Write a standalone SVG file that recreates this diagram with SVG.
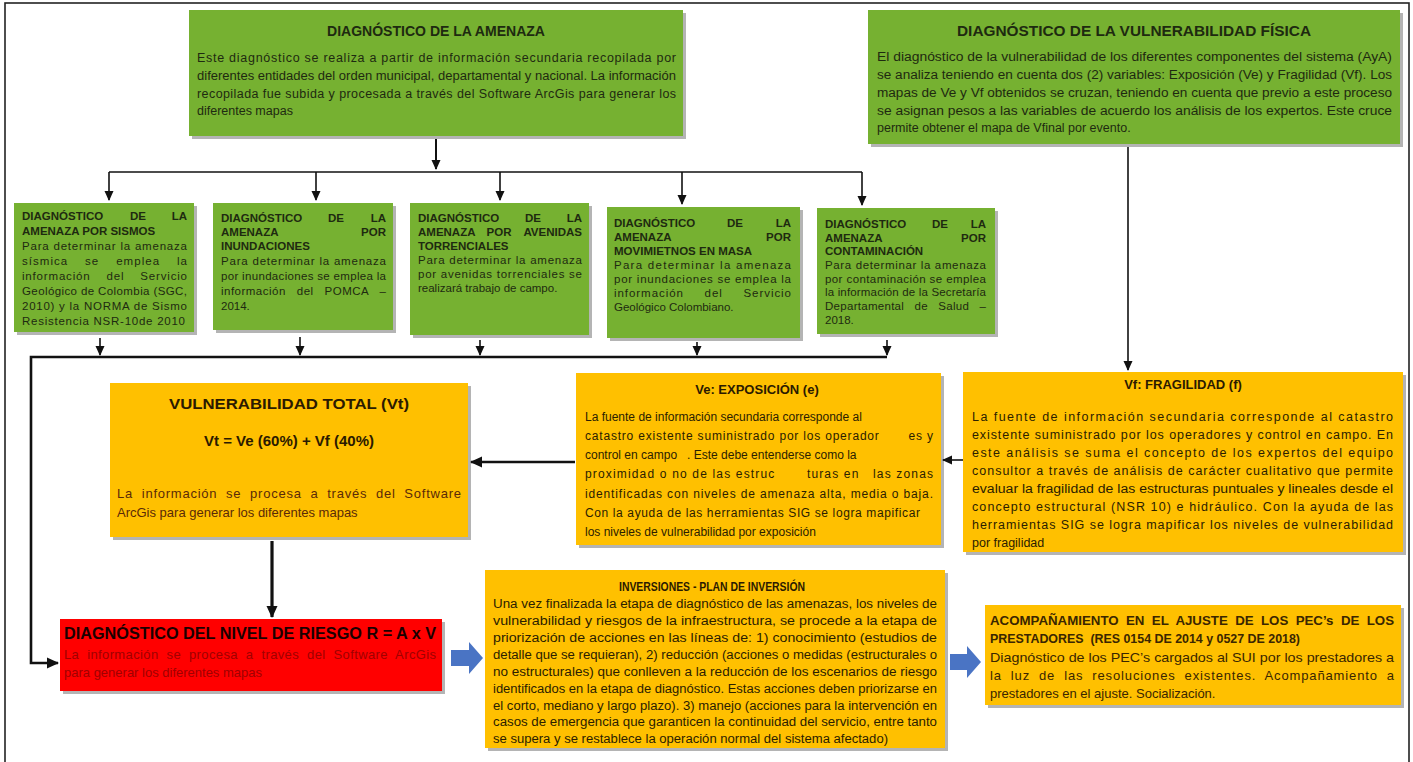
<svg xmlns="http://www.w3.org/2000/svg" width="1413" height="762" viewBox="0 0 1413 762">
<style>
text{font-family:"Liberation Sans",Arial,sans-serif;}
.green{fill:#76B131;}
.orange{fill:#FFC000;}
.red{fill:#FF0000;}
.shadow{fill:#b4b4b4;}
.gt{font-size:12.5px;fill:#1e2a10;}
.st{font-size:11.5px;fill:#1e2a10;}
.gh{font-size:11.5px;font-weight:bold;fill:#1e2a10;}
.gtitle{font-size:15px;font-weight:bold;fill:#1e2a10;text-anchor:middle;}
.ot{font-size:12.5px;fill:#2b2000;}
.otitle{font-size:15px;font-weight:bold;fill:#2b1a00;text-anchor:middle;}
.m{text-anchor:middle;}
.e{text-anchor:end;}
.pre{white-space:pre;}
.conn{stroke:#111;stroke-width:1.6;fill:none;}
.thick{stroke:#111;stroke-width:2.6;fill:none;}
.blue{fill:#4A74C4;}
</style>
<defs>
<marker id="ah" markerWidth="10" markerHeight="10" refX="9" refY="5" orient="auto" markerUnits="userSpaceOnUse">
<path d="M0,0.5 L10,5 L0,9.5 z" fill="#111"/>
</marker>
<marker id="ahb" markerWidth="12" markerHeight="12" refX="11" refY="6" orient="auto" markerUnits="userSpaceOnUse">
<path d="M0,0.5 L12,6 L0,11.5 z" fill="#111"/>
</marker>
</defs>
<rect x="0" y="0" width="1413" height="762" fill="#ffffff"/>
<rect x="5" y="3" width="1404" height="770" fill="none" stroke="#222" stroke-width="1.6"/>

<g id="amenaza">
<rect class="shadow" x="192" y="13" width="494" height="126"/>
<rect class="green" x="189" y="10" width="494" height="126"/>
<text class="gtitle" x="436" y="36" textLength="218" lengthAdjust="spacingAndGlyphs">DIAGNÓSTICO DE LA AMENAZA</text>
<text class="gt" x="197" y="62" textLength="479" lengthAdjust="spacing">Este diagnóstico se realiza a partir de información secundaria recopilada por</text>
<text class="gt" x="197" y="80" textLength="479" lengthAdjust="spacingAndGlyphs">diferentes entidades del orden municipal, departamental y nacional. La información</text>
<text class="gt" x="197" y="98" textLength="479" lengthAdjust="spacing">recopilada fue subida y procesada a través del Software ArcGis para generar los</text>
<text class="gt" x="197" y="115">diferentes mapas</text>
</g>

<g id="vulnerabilidad-fisica">
<rect class="shadow" x="871" y="13" width="532" height="134"/>
<rect class="green" x="868" y="10" width="532" height="134"/>
<text class="gtitle" x="1134" y="36" textLength="354" lengthAdjust="spacingAndGlyphs">DIAGNÓSTICO DE LA VULNERABILIDAD FÍSICA</text>
<text class="gt" x="877" y="61" textLength="515" lengthAdjust="spacingAndGlyphs">El diagnóstico de la vulnerabilidad de los diferentes componentes del sistema (AyA)</text>
<text class="gt" x="877" y="79" textLength="515" lengthAdjust="spacingAndGlyphs">se analiza teniendo en cuenta dos (2) variables: Exposición (Ve) y Fragilidad (Vf). Los</text>
<text class="gt" x="877" y="97" textLength="515" lengthAdjust="spacingAndGlyphs">mapas de Ve y Vf obtenidos se cruzan, teniendo en cuenta que previo a este proceso</text>
<text class="gt" x="877" y="115" textLength="515" lengthAdjust="spacingAndGlyphs">se asignan pesos a las variables de acuerdo los análisis de los expertos. Este cruce</text>
<text class="gt" x="877" y="132">permite obtener el mapa de Vfinal por evento.</text>
</g>

<g id="sismos">
<rect class="shadow" x="17" y="206" width="180" height="129"/>
<rect class="green" x="14" y="203" width="180" height="129"/>
<text class="gh" x="22" y="220">DIAGNÓSTICO</text><text class="gh m" x="138" y="220">DE</text><text class="gh e" x="187" y="220">LA</text>
<text class="gh" x="22" y="235">AMENAZA POR SISMOS</text>
<text class="st" x="22" y="250" textLength="165" lengthAdjust="spacing">Para determinar la amenaza</text>
<text class="st pre" x="22" y="265" textLength="165" lengthAdjust="spacing">sísmica    se    emplea    la</text>
<text class="st pre" x="22" y="280" textLength="165" lengthAdjust="spacing">información    del    Servicio</text>
<text class="st" x="22" y="295" textLength="165" lengthAdjust="spacing">Geológico de Colombia (SGC,</text>
<text class="st" x="22" y="310" textLength="165" lengthAdjust="spacing">2010) y la NORMA de Sismo</text>
<text class="st" x="22" y="325" textLength="163" lengthAdjust="spacing">Resistencia NSR-10de 2010</text>
</g>

<g id="inundaciones">
<rect class="shadow" x="216" y="206" width="180" height="127"/>
<rect class="green" x="213" y="203" width="180" height="127"/>
<text class="gh" x="221" y="222">DIAGNÓSTICO</text><text class="gh m" x="336" y="222">DE</text><text class="gh e" x="386" y="222">LA</text>
<text class="gh" x="221" y="236">AMENAZA</text><text class="gh e" x="386" y="236">POR</text>
<text class="gh" x="221" y="250">INUNDACIONES</text>
<text class="st" x="221" y="265" textLength="165" lengthAdjust="spacing">Para determinar la amenaza</text>
<text class="st" x="221" y="280" textLength="165" lengthAdjust="spacing">por inundaciones se emplea la</text>
<text class="st pre" x="221" y="295" textLength="165" lengthAdjust="spacing">información   del   POMCA   –</text>
<text class="st" x="221" y="310">2014.</text>
</g>

<g id="avenidas">
<rect class="shadow" x="413" y="206" width="179" height="132"/>
<rect class="green" x="410" y="203" width="179" height="132"/>
<text class="gh" x="418" y="222">DIAGNÓSTICO</text><text class="gh m" x="533" y="222">DE</text><text class="gh e" x="582" y="222">LA</text>
<text class="gh" x="418" y="236">AMENAZA</text><text class="gh m" x="499" y="236">POR</text><text class="gh e" x="582" y="236">AVENIDAS</text>
<text class="gh" x="418" y="250">TORRENCIALES</text>
<text class="st" x="418" y="264" textLength="164" lengthAdjust="spacing">Para determinar la amenaza</text>
<text class="st" x="418" y="278" textLength="164" lengthAdjust="spacing">por avenidas torrenciales se</text>
<text class="st" x="418" y="292">realizará trabajo de campo.</text>
</g>

<g id="movimientos">
<rect class="shadow" x="610" y="210" width="193" height="131"/>
<rect class="green" x="607" y="207" width="193" height="131"/>
<text class="gh" x="614" y="227">DIAGNÓSTICO</text><text class="gh m" x="735" y="227">DE</text><text class="gh e" x="791" y="227">LA</text>
<text class="gh" x="614" y="241">AMENAZA</text><text class="gh e" x="791" y="241">POR</text>
<text class="gh" x="614" y="255">MOVIMIETNOS EN MASA</text>
<text class="st" x="614" y="269" textLength="177" lengthAdjust="spacing">Para determinar la amenaza</text>
<text class="st" x="614" y="283" textLength="177" lengthAdjust="spacing">por inundaciones se emplea la</text>
<text class="st pre" x="614" y="297" textLength="177" lengthAdjust="spacing">información     del     Servicio</text>
<text class="st" x="614" y="311">Geológico Colombiano.</text>
</g>

<g id="contaminacion">
<rect class="shadow" x="820" y="211" width="178" height="126"/>
<rect class="green" x="817" y="208" width="178" height="126"/>
<text class="gh" x="825" y="228">DIAGNÓSTICO</text><text class="gh m" x="940" y="228">DE</text><text class="gh e" x="986" y="228">LA</text>
<text class="gh" x="825" y="242">AMENAZA</text><text class="gh e" x="986" y="242">POR</text>
<text class="gh" x="825" y="255">CONTAMINACIÓN</text>
<text class="st" x="825" y="269" textLength="161" lengthAdjust="spacing">Para determinar la amenaza</text>
<text class="st" x="825" y="283" textLength="161" lengthAdjust="spacing">por contaminación se emplea</text>
<text class="st" x="825" y="296" textLength="161" lengthAdjust="spacing">la información de la Secretaría</text>
<text class="st pre" x="825" y="310" textLength="161" lengthAdjust="spacing">Departamental   de   Salud   –</text>
<text class="st" x="825" y="324">2018.</text>
</g>

<g id="vt">
<rect class="shadow" x="113" y="386" width="358" height="154"/>
<rect class="orange" x="110" y="383" width="358" height="154"/>
<text class="otitle" x="289" y="409" textLength="240" lengthAdjust="spacingAndGlyphs">VULNERABILIDAD TOTAL (Vt)</text>
<text class="otitle" x="289" y="446" textLength="170" lengthAdjust="spacingAndGlyphs">Vt = Ve (60%) + Vf (40%)</text>
<text class="ot pre" x="117" y="498" textLength="344" lengthAdjust="spacing" style="fill:#5a2a08;font-size:13px">La  información  se  procesa  a  través  del  Software</text>
<text class="ot" x="117" y="517" style="fill:#5a2a08;font-size:13px">ArcGis para generar los diferentes mapas</text>
</g>

<g id="ve">
<rect class="shadow" x="579" y="376" width="365" height="172"/>
<rect class="orange" x="576" y="373" width="365" height="172"/>
<text class="otitle" x="757" y="394" style="font-size:13px">Ve: EXPOSICIÓN (e)</text>
<text class="ot" x="585" y="421" style="font-size:12px">La fuente de información secundaria corresponde al</text>
<text class="ot pre" x="585" y="440" textLength="348" lengthAdjust="spacing" style="font-size:12px">catastro existente suministrado por los operador       es y</text>
<text class="ot pre" x="585" y="459" style="font-size:12px">control en campo   . Este debe entenderse como la</text>
<text class="ot pre" x="585" y="478" textLength="348" lengthAdjust="spacing" style="font-size:12px">proximidad o no de las estruc       turas en   las zonas</text>
<text class="ot" x="585" y="498" textLength="348" lengthAdjust="spacing" style="font-size:12px">identificadas con niveles de amenaza alta, media o baja.</text>
<text class="ot" x="585" y="517" textLength="335" lengthAdjust="spacing" style="font-size:12px">Con la ayuda de las herramientas SIG se logra mapificar</text>
<text class="ot" x="585" y="536" style="font-size:12px">los niveles de vulnerabilidad por exposición</text>
</g>

<g id="vf">
<rect class="shadow" x="966" y="375" width="440" height="180"/>
<rect class="orange" x="963" y="372" width="440" height="180"/>
<text class="otitle" x="1183" y="389" style="font-size:13px">Vf: FRAGILIDAD (f)</text>
<text class="ot" x="972" y="421" textLength="421" lengthAdjust="spacing">La fuente de información secundaria corresponde al catastro</text>
<text class="ot" x="972" y="439" textLength="421" lengthAdjust="spacing">existente suministrado por los operadores y control en campo. En</text>
<text class="ot" x="972" y="457" textLength="421" lengthAdjust="spacing">este análisis se suma el concepto de los expertos del equipo</text>
<text class="ot" x="972" y="475" textLength="421" lengthAdjust="spacing">consultor a través de análisis de carácter cualitativo que permite</text>
<text class="ot" x="972" y="493" textLength="421" lengthAdjust="spacingAndGlyphs">evaluar la fragilidad de las estructuras puntuales y lineales desde el</text>
<text class="ot" x="972" y="511" textLength="421" lengthAdjust="spacing">concepto estructural (NSR 10) e hidráulico. Con la ayuda de las</text>
<text class="ot" x="972" y="529" textLength="421" lengthAdjust="spacing">herramientas SIG se logra mapificar los niveles de vulnerabilidad</text>
<text class="ot" x="972" y="547">por fragilidad</text>
</g>

<g id="riesgo">
<rect class="shadow" x="63" y="622" width="382" height="72"/>
<rect class="red" x="60" y="619" width="382" height="72"/>
<text x="64" y="639" textLength="372" lengthAdjust="spacingAndGlyphs" style="font-size:16px;font-weight:bold;fill:#1a0000">DIAGNÓSTICO DEL NIVEL DE RIESGO R = A x V</text>
<text class="pre" x="64" y="659" textLength="372" lengthAdjust="spacing" style="font-size:13px;fill:#a00000">La  información  se  procesa  a  través  del  Software  ArcGis</text>
<text x="64" y="677" style="font-size:13px;fill:#a00000">para generar los diferentes mapas</text>
</g>

<g id="inversiones">
<rect class="shadow" x="488" y="573" width="460" height="178"/>
<rect class="orange" x="485" y="570" width="460" height="178"/>
<text class="otitle" x="712" y="591" style="font-size:13px" textLength="186" lengthAdjust="spacingAndGlyphs">INVERSIONES  - PLAN DE INVERSIÓN</text>
<text class="ot" x="493" y="608" textLength="444" lengthAdjust="spacingAndGlyphs">Una vez finalizada la etapa de diagnóstico de las amenazas, los niveles de</text>
<text class="ot" x="493" y="625" textLength="444" lengthAdjust="spacingAndGlyphs">vulnerabilidad y riesgos de la infraestructura, se procede a la etapa de</text>
<text class="ot" x="493" y="642" textLength="444" lengthAdjust="spacingAndGlyphs">priorización de acciones en las líneas de: 1) conocimiento (estudios de</text>
<text class="ot" x="493" y="659" textLength="444" lengthAdjust="spacingAndGlyphs">detalle que se requieran), 2) reducción (acciones o medidas (estructurales o</text>
<text class="ot" x="493" y="676" textLength="444" lengthAdjust="spacingAndGlyphs">no estructurales) que conlleven a la reducción de los escenarios de riesgo</text>
<text class="ot" x="493" y="693" textLength="444" lengthAdjust="spacingAndGlyphs">identificados en la etapa de diagnóstico. Estas acciones deben priorizarse en</text>
<text class="ot" x="493" y="710" textLength="444" lengthAdjust="spacingAndGlyphs">el corto, mediano y largo plazo). 3) manejo (acciones para la intervención en</text>
<text class="ot" x="493" y="726" textLength="444" lengthAdjust="spacingAndGlyphs">casos de emergencia que garanticen la continuidad del servicio, entre tanto</text>
<text class="ot" x="493" y="743" textLength="395" lengthAdjust="spacingAndGlyphs">se supera y se restablece la operación normal del sistema afectado)</text>
</g>

<g id="acompanamiento">
<rect class="shadow" x="988" y="608" width="416" height="100"/>
<rect class="orange" x="985" y="605" width="416" height="100"/>
<text class="pre" x="990" y="625" textLength="404" lengthAdjust="spacingAndGlyphs" style="font-size:13.5px;font-weight:bold;fill:#3a2600">ACOMPAÑAMIENTO  EN  EL  AJUSTE  DE  LOS  PEC’s  DE  LOS</text>
<text class="pre" x="990" y="643" textLength="310" lengthAdjust="spacingAndGlyphs" style="font-size:13.5px;font-weight:bold;fill:#3a2600">PRESTADORES  (RES 0154 DE 2014 y 0527 DE 2018)</text>
<text x="990" y="662" textLength="404" lengthAdjust="spacingAndGlyphs" style="font-size:13px;fill:#3a2600">Diagnóstico de los PEC’s cargados al SUI por los prestadores a</text>
<text class="pre" x="990" y="680" textLength="404" lengthAdjust="spacing" style="font-size:13px;fill:#3a2600">la  luz  de  las  resoluciones  existentes.  Acompañamiento  a</text>
<text x="990" y="698" style="font-size:13px;fill:#3a2600">prestadores en el ajuste. Socialización.</text>
</g>

<g id="connectors">
<line class="thick" x1="436" y1="139" x2="436" y2="169" marker-end="url(#ah)" style="stroke-width:2"/>
<line class="conn" x1="109" y1="172" x2="862" y2="172"/>
<line class="conn" x1="109" y1="172" x2="109" y2="200" marker-end="url(#ah)"/>
<line class="conn" x1="316" y1="172" x2="316" y2="200" marker-end="url(#ah)"/>
<line class="conn" x1="500" y1="172" x2="500" y2="200" marker-end="url(#ah)"/>
<line class="conn" x1="682" y1="172" x2="682" y2="204" marker-end="url(#ah)"/>
<line class="conn" x1="862" y1="172" x2="862" y2="205" marker-end="url(#ah)"/>
<line class="conn" x1="1128" y1="147" x2="1128" y2="370" marker-end="url(#ah)"/>
<line class="conn" x1="100" y1="338" x2="100" y2="355" marker-end="url(#ah)"/>
<line class="conn" x1="300" y1="337" x2="300" y2="355" marker-end="url(#ah)"/>
<line class="conn" x1="480" y1="340" x2="480" y2="355" marker-end="url(#ah)"/>
<line class="conn" x1="697" y1="342" x2="697" y2="355" marker-end="url(#ah)"/>
<line class="conn" x1="887" y1="340" x2="887" y2="355" marker-end="url(#ah)"/>
<polyline class="thick" points="887,357 31,357 31,663 58,663" marker-end="url(#ahb)"/>
<line class="conn" x1="963" y1="460" x2="943" y2="460" marker-end="url(#ah)"/>
<line class="thick" x1="575" y1="462" x2="471" y2="462" marker-end="url(#ahb)"/>
<line class="thick" x1="272" y1="541" x2="272" y2="617" marker-end="url(#ahb)" style="stroke-width:3.2"/>
<path class="blue" d="M451,650 L469,650 L469,642 L483,658 L469,674 L469,666 L451,666 z"/>
<path class="blue" d="M950,654 L967,654 L967,646 L981,662 L967,678 L967,670 L950,670 z"/>
</g>
</svg>
